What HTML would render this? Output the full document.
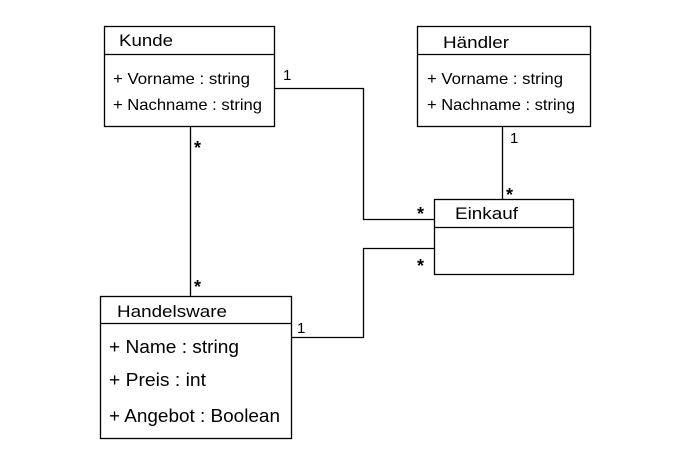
<!DOCTYPE html>
<html><head><meta charset="utf-8"><style>
html,body{margin:0;padding:0;background:#fff;}
svg{display:block;}
text{font-family:"Liberation Sans","DejaVu Sans",sans-serif;fill:#000;}
</style></head><body>
<svg width="690" height="470" viewBox="0 0 690 470" xmlns="http://www.w3.org/2000/svg">
<g fill="none" stroke="#000" stroke-width="1.3">
<rect x="104.5" y="26.5" width="170" height="100"/>
<line x1="104.5" y1="54.5" x2="274.5" y2="54.5"/>
<rect x="417.5" y="26.5" width="173" height="100"/>
<line x1="417.5" y1="54.5" x2="590.5" y2="54.5"/>
<rect x="434.5" y="199.5" width="139" height="75"/>
<line x1="434.5" y1="227.5" x2="573.5" y2="227.5"/>
<rect x="100.5" y="296.5" width="191" height="142"/>
<line x1="100.5" y1="323.5" x2="291.5" y2="323.5"/>
<polyline points="274.5,88.5 363.5,88.5 363.5,219.5 434.5,219.5"/>
<polyline points="434.5,248.5 363.5,248.5 363.5,337.5 291.5,337.5"/>
<line x1="190.5" y1="126.5" x2="190.5" y2="296.5"/>
<line x1="502.5" y1="126.5" x2="502.5" y2="199.5"/>
</g>
<g font-size="17">
<text x="119" y="46" textLength="54" lengthAdjust="spacingAndGlyphs">Kunde</text>
<text x="443" y="48" textLength="66" lengthAdjust="spacingAndGlyphs">Händler</text>
<text x="455" y="219" textLength="63" lengthAdjust="spacingAndGlyphs">Einkauf</text>
<text x="117" y="317" textLength="110" lengthAdjust="spacingAndGlyphs">Handelsware</text>
</g>
<g font-size="16">
<text x="113" y="84" textLength="137" lengthAdjust="spacingAndGlyphs">+ Vorname : string</text>
<text x="113" y="110" textLength="149" lengthAdjust="spacingAndGlyphs">+ Nachname : string</text>
<text x="427" y="84" textLength="136" lengthAdjust="spacingAndGlyphs">+ Vorname : string</text>
<text x="427" y="110" textLength="148" lengthAdjust="spacingAndGlyphs">+ Nachname : string</text>
</g>
<g font-size="18">
<text x="109" y="353" textLength="130" lengthAdjust="spacingAndGlyphs">+ Name : string</text>
<text x="109" y="386" textLength="97" lengthAdjust="spacingAndGlyphs">+  Preis : int</text>
<text x="109" y="422" textLength="171" lengthAdjust="spacingAndGlyphs">+ Angebot : Boolean</text>
</g>
<g font-size="15">
<text x="283" y="80">1</text>
<text x="510" y="143">1</text>
<text x="297" y="333">1</text>
</g>
<g font-size="18" font-weight="bold">
<text x="194" y="154">*</text>
<text x="194" y="293">*</text>
<text x="506" y="201">*</text>
<text x="417" y="220">*</text>
<text x="417" y="272">*</text>
</g>
</svg>
</body></html>
